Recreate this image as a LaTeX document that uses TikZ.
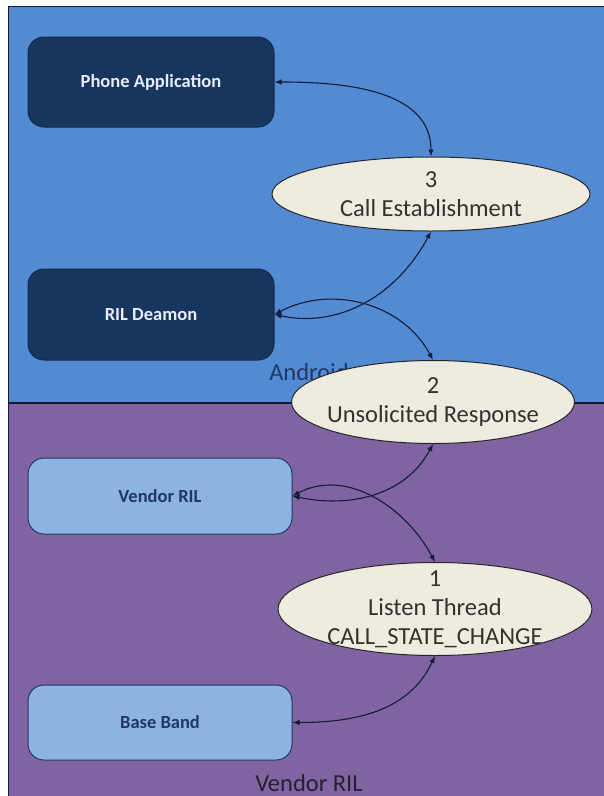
\documentclass[tikz,border=0pt]{standalone}
\usepackage{fontspec}
\setmainfont{Carlito}
\usetikzlibrary{shapes.geometric,arrows.meta}

\definecolor{androidbg}{HTML}{538AD4}
\definecolor{vendorbg}{HTML}{8064A2}
\definecolor{darkbox}{HTML}{17365D}
\definecolor{lightbox}{HTML}{8DB3E2}
\definecolor{navytext}{HTML}{1F3864}
\definecolor{stepfill}{HTML}{EEECE1}
\definecolor{steptext}{HTML}{33332A}
\definecolor{linkc}{HTML}{141B33}
\definecolor{framec}{HTML}{1A1A2A}

\tikzset{
  layerbox/.style={rounded corners=16pt, minimum width=246pt, minimum height=90pt,
    inner sep=0pt, line width=1pt, font=\fontsize{18.5}{21}\selectfont\bfseries},
  darkbox/.style={layerbox, fill=darkbox, draw=darkbox!80!black, text=white!92!blue},
  lightbox/.style={layerbox, fill=lightbox, draw=navytext, text=navytext,
    minimum width=264pt, minimum height=76pt},
  stepshape/.style={ellipse, fill=stepfill, draw=black!85, line width=1pt, inner sep=0pt},
  steplabel/.style={align=center, text=steptext, font=\fontsize{24.5}{29}\selectfont},
  layerlabel/.style={font=\fontsize{24.5}{29}\selectfont},
  link/.style={draw=linkc, line width=1.1pt,
    {Latex[length=7pt,width=5.5pt]}-{Latex[length=7pt,width=5.5pt]}}
}

\begin{document}
\begin{tikzpicture}[x=1pt,y=-1pt]
  \useasboundingbox (0,0) rectangle (604,796);

  % layer backgrounds
  \fill[androidbg] (8.5,6.5) rectangle (610,403);
  \fill[vendorbg] (8.5,403) rectangle (610,810);
  \draw[framec, line width=1.3pt] (8.5,810) -- (8.5,6.5) -- (610,6.5);
  \draw[framec, line width=1.3pt] (8.5,403) -- (610,403);

  % layer captions
  \node[layerlabel, text=navytext] (androidlbl) at (309,372) {Android};
  \node[layerlabel, text=black!70!vendorbg] (vendorlbl) at (309,783) {Vendor RIL};

  % components
  \node[darkbox] (phone) at (151,82) {Phone Application};
  \node[darkbox, minimum height=91pt] (rild) at (151,314.5) {RIL Deamon};
  \node[lightbox] (vril) at (160,496) {Vendor RIL};
  \node[lightbox, minimum height=75pt] (bband) at (160,722.5) {Base Band};

  % numbered steps
  \node[stepshape, minimum width=318pt, minimum height=74pt] (e3) at (431,194) {};
  \node[steplabel] (t3) at (e3) {3\\Call Establishment};
  \node[stepshape, minimum width=283pt, minimum height=83pt] (e2) at (433,402) {};
  \node[steplabel] (t2) at (e2) {2\\Unsolicited Response};
  \node[stepshape, minimum width=314pt, minimum height=93pt] (e1) at (435,609) {};
  \node[steplabel] (t1) at (e1) {1\\Listen Thread\\CALL\_STATE\_CHANGE};

  % message flow
  \draw[link] (phone.east) to[out=0,in=90] (e3.north);
  \draw[link] (rild.east) to[out=-12,in=-118] (e3.south);
  \draw[link] (rild.east) to[out=28,in=118] (e2.north);
  \draw[link] (vril.east) to[out=-12,in=-118] (e2.south);
  \draw[link] (vril.east) to[out=28,in=118] (e1.north);
  \draw[link] (bband.east) to[out=0,in=-115] (e1.south);
\end{tikzpicture}
\end{document}
